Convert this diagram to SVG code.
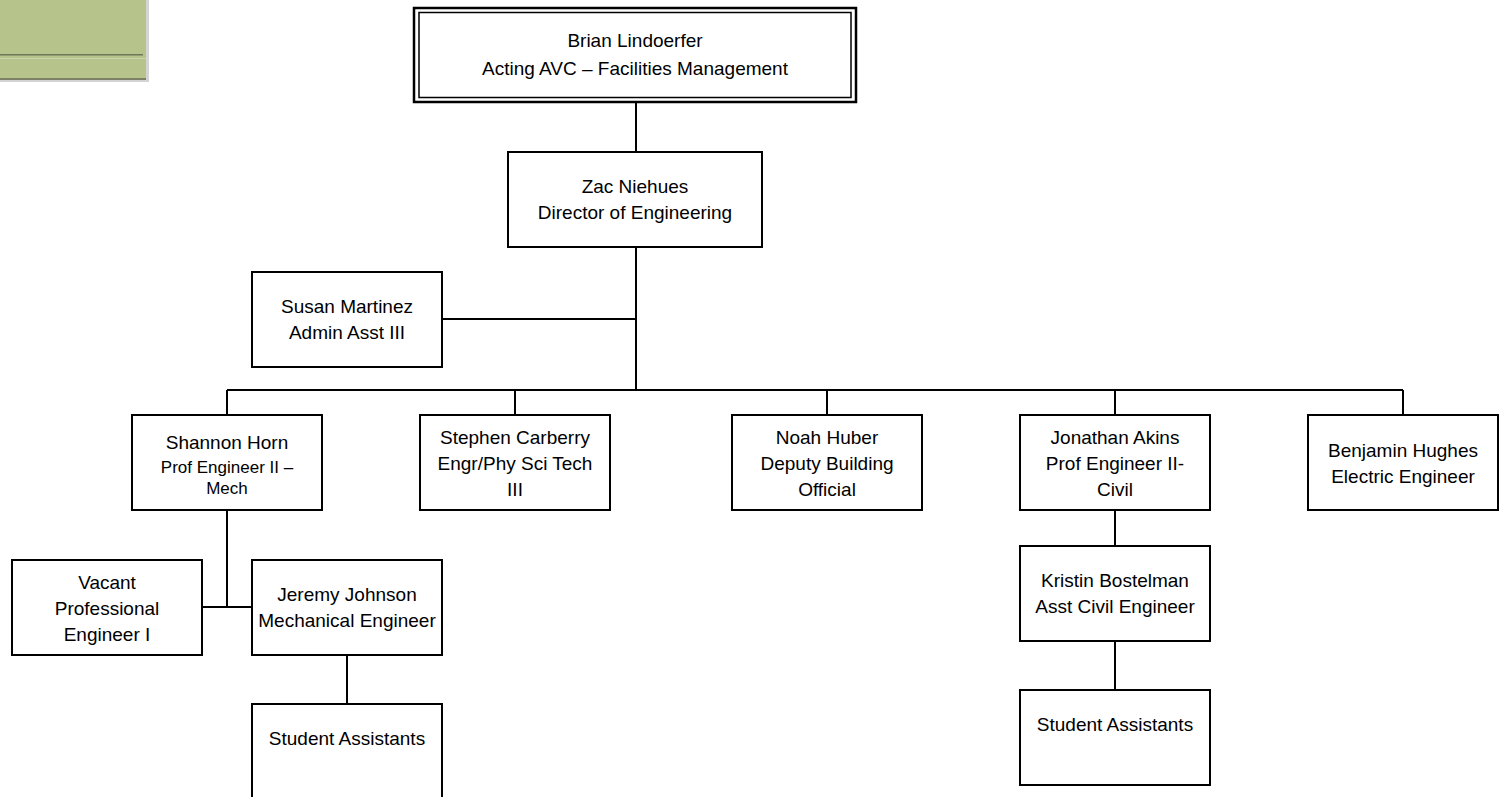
<svg xmlns="http://www.w3.org/2000/svg" width="1505" height="797" viewBox="0 0 1505 797">
<style>
.box{fill:#ffffff;stroke:#000000;stroke-width:2}
.t{font-family:"Liberation Sans",Arial,sans-serif;font-size:19px;fill:#000000;text-anchor:middle}
.s{font-size:17px}
.c{fill:none;stroke:#000000;stroke-width:2}
</style>
<rect width="1505" height="797" fill="#ffffff"/>
<g id="legend">
<rect x="0" y="0" width="146" height="79" fill="#b6c48b"/>
<rect x="146" y="0" width="3" height="82" fill="#d4d4d4"/>
<rect x="0" y="79" width="149" height="3" fill="#d4d4d4"/>
<rect x="0" y="78" width="146" height="2" fill="#7c8067"/>
<rect x="0" y="54" width="143" height="1.5" fill="#6e7759"/>
<rect x="0" y="58" width="146" height="1" fill="#c9d2ad"/>
</g>
<g id="connectors">
<path class="c" d="M636 102V151"/>
<path class="c" d="M636 247V390"/>
<path class="c" d="M443 319H636"/>
<path class="c" d="M227 390H1403"/>
<path class="c" d="M227 390V414M515 390V414M827 390V414M1115 390V414M1403 390V414"/>
<path class="c" d="M227 510V607M203 607H251"/>
<path class="c" d="M347 655V703"/>
<path class="c" d="M1115 510V545M1115 641V689"/>
</g>
<g id="brian">
<rect x="414" y="8" width="442" height="94" fill="#ffffff" stroke="#000" stroke-width="2.5"/>
<rect x="419" y="12.5" width="432" height="85" fill="none" stroke="#000" stroke-width="1.5"/>
<text class="t" x="635" y="47">Brian Lindoerfer</text>
<text class="t" x="635" y="75">Acting AVC – Facilities Management</text>
</g>
<g id="zac">
<rect class="box" x="508" y="152" width="254" height="95"/>
<text class="t" x="635" y="193">Zac Niehues</text>
<text class="t" x="635" y="219">Director of Engineering</text>
</g>
<g id="susan">
<rect class="box" x="252" y="272" width="190" height="95"/>
<text class="t" x="347" y="313">Susan Martinez</text>
<text class="t" x="347" y="339">Admin Asst III</text>
</g>
<g id="shannon">
<rect class="box" x="132" y="415" width="190" height="95"/>
<text class="t" x="227" y="449">Shannon Horn</text>
<text class="t s" x="227" y="473">Prof Engineer II –</text>
<text class="t s" x="227" y="494">Mech</text>
</g>
<g id="stephen">
<rect class="box" x="420" y="415" width="190" height="95"/>
<text class="t" x="515" y="444">Stephen Carberry</text>
<text class="t" x="515" y="470">Engr/Phy Sci Tech</text>
<text class="t" x="515" y="496">III</text>
</g>
<g id="noah">
<rect class="box" x="732" y="415" width="190" height="95"/>
<text class="t" x="827" y="444">Noah Huber</text>
<text class="t" x="827" y="470">Deputy Building</text>
<text class="t" x="827" y="496">Official</text>
</g>
<g id="jonathan">
<rect class="box" x="1020" y="415" width="190" height="95"/>
<text class="t" x="1115" y="444">Jonathan Akins</text>
<text class="t" x="1115" y="470">Prof Engineer II-</text>
<text class="t" x="1115" y="496">Civil</text>
</g>
<g id="benjamin">
<rect class="box" x="1308" y="415" width="190" height="95"/>
<text class="t" x="1403" y="457">Benjamin Hughes</text>
<text class="t" x="1403" y="483">Electric Engineer</text>
</g>
<g id="vacant">
<rect class="box" x="12" y="560" width="190" height="95"/>
<text class="t" x="107" y="589">Vacant</text>
<text class="t" x="107" y="615">Professional</text>
<text class="t" x="107" y="641">Engineer I</text>
</g>
<g id="jeremy">
<rect class="box" x="252" y="560" width="190" height="95"/>
<text class="t" x="347" y="601">Jeremy Johnson</text>
<text class="t" x="347" y="627">Mechanical Engineer</text>
</g>
<g id="students-mech">
<rect class="box" x="252" y="704" width="190" height="95"/>
<text class="t" x="347" y="745">Student Assistants</text>
</g>
<g id="kristin">
<rect class="box" x="1020" y="546" width="190" height="95"/>
<text class="t" x="1115" y="587">Kristin Bostelman</text>
<text class="t" x="1115" y="613">Asst Civil Engineer</text>
</g>
<g id="students-civil">
<rect class="box" x="1020" y="690" width="190" height="95"/>
<text class="t" x="1115" y="731">Student Assistants</text>
</g>
</svg>
